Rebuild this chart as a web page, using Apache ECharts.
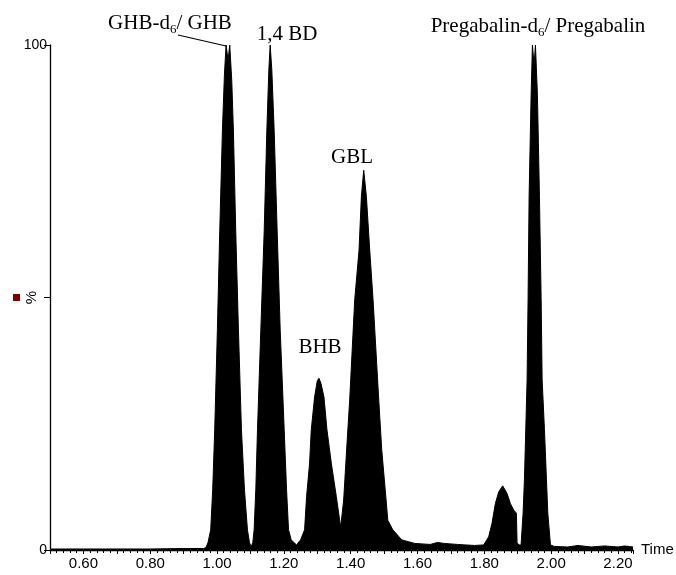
<!DOCTYPE html>
<html><head><meta charset="utf-8">
<script src="https://cdn.jsdelivr.net/npm/echarts@6/dist/echarts.min.js"></script>
<style>html,body{margin:0;padding:0;background:#fff}#c{width:676px;height:575px}</style>
</head><body><div id="c"></div>
<script>
// Retention time (min) of each sampled point of the trace
const times = [
  0.500, 0.600, 0.700, 0.800, 0.900, 0.960, 0.967, 0.973, 0.981, 0.987,
  0.993, 1.001, 1.008, 1.016, 1.022, 1.027, 1.033, 1.038, 1.044, 1.049,
  1.056, 1.064, 1.073, 1.082, 1.091, 1.097, 1.102, 1.107, 1.111, 1.116,
  1.121, 1.131, 1.141, 1.149, 1.155, 1.159, 1.164, 1.171, 1.180, 1.189,
  1.201, 1.208, 1.214, 1.222, 1.238, 1.250, 1.262, 1.268, 1.277, 1.282,
  1.292, 1.300, 1.305, 1.311, 1.320, 1.329, 1.342, 1.357, 1.370, 1.379,
  1.388, 1.397, 1.412, 1.425, 1.432, 1.439, 1.447, 1.457, 1.467, 1.484,
  1.493, 1.506, 1.511, 1.526, 1.553, 1.592, 1.638, 1.660, 1.680, 1.720,
  1.770, 1.798, 1.813, 1.823, 1.833, 1.843, 1.855, 1.868, 1.878, 1.888,
  1.896, 1.898, 1.903, 1.910, 1.916, 1.920, 1.924, 1.928, 1.931, 1.934,
  1.940, 1.944, 1.949, 1.953, 1.959, 1.965, 1.970, 1.973, 1.980, 1.986,
  1.990, 1.998, 2.010, 2.050, 2.080, 2.120, 2.160, 2.200, 2.220, 2.245
];
// Relative intensity (%) at each time
const intensity = [
  0.2, 0.2, 0.2, 0.2, 0.3, 0.3, 0.5, 1.5, 4.0, 12.0,
  23.8, 43.6, 63.0, 83.0, 94.0, 100, 97.0, 100, 93.0, 83.0,
  63.0, 43.6, 23.8, 12.0, 4.0, 1.5, 0.6, 1.5, 4.0, 12.0,
  23.8, 43.6, 63.0, 83.0, 95.0, 100, 95.0, 83.0, 63.0, 43.6,
  23.8, 12.0, 4.0, 2.0, 1.0, 2.0, 4.0, 10.6, 17.2, 23.8,
  30.3, 33.5, 34.0, 33.0, 30.3, 23.8, 17.2, 10.6, 4.5, 9.9,
  20.0, 29.7, 49.5, 59.4, 70.0, 75.2, 70.0, 59.4, 49.5, 29.7,
  19.8, 9.9, 5.9, 4.0, 2.0, 1.3, 1.1, 1.5, 1.3, 1.1,
  0.9, 1.0, 2.6, 5.3, 9.2, 11.5, 12.7, 11.2, 9.2, 7.9,
  7.3, 1.5, 1.0, 1.0, 7.3, 13.9, 23.8, 33.7, 50.0, 70.0,
  90.0, 100, 96.0, 100, 90.0, 70.0, 50.0, 33.7, 23.8, 13.9,
  7.3, 1.0, 0.7, 0.6, 0.9, 0.6, 0.8, 0.6, 0.8, 0.6
];
const xTickLabels = ['0.60','0.80','1.00','1.20','1.40','1.60','1.80','2.00','2.20'];
const yTickLabels = ['0','100'];
const peakNames = ['GHB-d{s|6}/ GHB', '1,4 BD', 'BHB', 'GBL', 'Pregabalin-d{s|6}/ Pregabalin'];

const seriesData = times.map((t, i) => [t, intensity[i]]);

const chart = echarts.init(document.getElementById('c'), null, {renderer: 'canvas'});
const serif = '"Liberation Serif", "Times New Roman", serif';
const sans = '"Liberation Sans", Arial, sans-serif';
const rich = {
  a: {fontSize: 21, lineHeight: 21, fontFamily: serif, fill: '#000', verticalAlign: 'top'},
  s: {fontSize: 13, lineHeight: 13, fontFamily: serif, fill: '#000', verticalAlign: 'top', padding: [11, 0, 0, 0]}
};
function labelText(str) {
  return str.split(/(\{s\|[^}]*\})/).map(p => p.startsWith('{s|') ? p : (p ? '{a|' + p + '}' : '')).join('');
}
const labelPos = [[170, 23], [287, 34], [320, 347], [352, 157], [538, 26]];
const graphics = peakNames.map((n, i) => ({
  type: 'text', x: labelPos[i][0], y: labelPos[i][1],
  style: {text: labelText(n), rich: rich, align: 'center', verticalAlign: 'middle', fill: '#000', fontFamily: serif, fontSize: 21}
}));
graphics.push({type: 'line', shape: {x1: 178, y1: 35, x2: 226, y2: 46}, style: {stroke: '#000', lineWidth: 1.2}});
graphics.push({type: 'rect', shape: {x: 13, y: 294, width: 7, height: 7}, style: {fill: '#800000'}});

chart.setOption({
  animation: false,
  backgroundColor: '#fff',
  grid: {left: 50, right: 43, top: 45, bottom: 25, containLabel: false, outerBoundsMode: 'none'},
  xAxis: {
    type: 'value', min: 0.5, max: 2.245, interval: 0.1,
    name: 'Time', nameLocation: 'end', nameGap: 8,
    nameTextStyle: {color: '#000', fontSize: 15, fontFamily: sans},
    axisLine: {lineStyle: {color: '#000', width: 1.3}},
    axisTick: {show: true, length: 4, lineStyle: {color: '#000'}},
    minorTick: {show: true, splitNumber: 5, length: 3, lineStyle: {color: '#000'}},
    splitLine: {show: false},
    axisLabel: {
      color: '#000', fontSize: 15, fontFamily: sans, margin: 6,
      formatter: v => { const s = v.toFixed(2); return xTickLabels.includes(s) ? s : ''; }
    }
  },
  yAxis: {
    type: 'value', min: 0, max: 100, interval: 50,
    name: '%', nameLocation: 'middle', nameRotate: 90, nameGap: 11, nameMoveOverlap: false,
    nameTextStyle: {color: '#000', fontSize: 15, fontFamily: sans},
    axisLine: {show: true, lineStyle: {color: '#000', width: 1.3}},
    axisTick: {show: true, length: 6, lineStyle: {color: '#000'}},
    splitLine: {show: false},
    axisLabel: {
      color: '#000', fontSize: 14, fontFamily: sans, margin: 3,
      formatter: v => { const s = String(v); return yTickLabels.includes(s) ? s : ''; }
    }
  },
  series: [{
    type: 'line', data: seriesData, symbol: 'none', smooth: false,
    lineStyle: {color: '#000', width: 1},
    areaStyle: {color: '#000', opacity: 1},
    itemStyle: {color: '#000'},
    clip: true
  }],
  graphic: graphics
});
</script></body></html>
